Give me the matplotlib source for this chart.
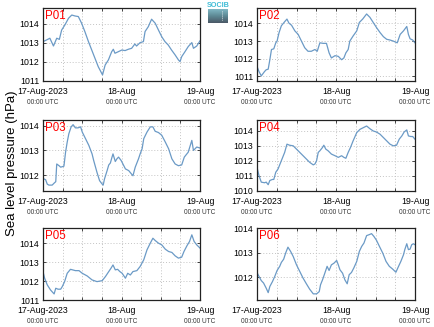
import matplotlib
matplotlib.use('Agg')
import matplotlib.pyplot as plt
import numpy as np

plt.rcParams['font.family'] = ['Liberation Sans', 'DejaVu Sans']

# hours since 17-Aug-2023 00:00 UTC  /  sea level pressure (hPa)
p01_h = [0, 1.1, 2.1, 3.2, 4.2, 5, 5.7, 6.7, 7.8, 8.8, 9.8, 10.8, 11.8, 12.8, 13.9, 14.9, 15.9, 16.9, 18.2, 19,
         20, 21, 21.5, 22, 23, 24.1, 25.1, 26.1, 27.1, 28.1, 28.6, 29.7, 30.7, 31.2, 32.2, 33.2, 34.3, 35.3, 36.3, 37.3,
         38.3, 39.3, 40.4, 41.4, 41.9, 42.4, 43.4, 44.4, 45.5, 46, 47, 48]
p01_v = [1013.07, 1013.16, 1013.25, 1012.84, 1013.25, 1013.19, 1013.68, 1013.95, 1014.30, 1014.47,
         1014.42, 1014.39, 1014.04, 1013.60, 1013.07, 1012.63, 1012.19, 1011.75, 1011.32, 1011.84,
         1012.11, 1012.54, 1012.67, 1012.46, 1012.54, 1012.63, 1012.60, 1012.67, 1012.72, 1012.95,
         1012.84, 1013.02, 1013.07, 1013.60, 1013.86, 1014.25, 1014.04, 1013.68, 1013.33, 1013.07,
         1012.89, 1012.63, 1012.37, 1012.11, 1012.02, 1012.28, 1012.54, 1012.81, 1013.02, 1012.72,
         1012.84, 1013.11]

p02_h = [0, 0.6, 1.3, 2.3, 2.8, 3.4, 3.9, 4.4, 5.1, 5.7, 6.1, 6.7, 7.4, 8.4, 9.1, 9.7, 10.5, 11.5, 12.5, 13.5,
         14.5, 15.5, 16.5, 17.6, 18.3, 19.1, 20.1, 21.1, 21.9, 22.6, 23.7, 24.7, 25.7, 26.4, 27, 27.7, 28.2, 29.2,
         30.3, 31.1, 32.1, 33.3, 34.3, 35.3, 36.3, 37.4, 38.4, 39.4, 40.4, 41.4, 42.6, 43.5, 44.5, 45.5, 46, 46.5,
         47.3, 48]
p02_v = [1011.56, 1011.27, 1011.02, 1011.27, 1011.37, 1011.40, 1011.94, 1012.52, 1012.56, 1012.90,
         1013.00, 1013.48, 1013.87, 1014.10, 1014.25, 1014.02, 1013.90, 1013.58, 1013.38, 1013.00,
         1012.62, 1012.42, 1012.42, 1012.52, 1012.42, 1012.90, 1012.87, 1012.87, 1012.33, 1012.04,
         1012.17, 1012.13, 1011.94, 1012.04, 1012.33, 1012.52, 1013.00, 1013.29, 1013.58, 1014.06,
         1014.25, 1014.54, 1014.35, 1014.06, 1013.77, 1013.48, 1013.25, 1013.10, 1013.06, 1013.00,
         1012.90, 1013.38, 1013.58, 1013.83, 1013.38, 1013.13, 1013.06, 1012.90]

p03_h = [0, 0.8, 1.3, 1.8, 2.8, 3.4, 3.9, 4.2, 4.9, 5.4, 6.4, 6.9, 7.4, 7.9, 8.6, 9.2, 9.9, 10.7, 11.5, 12,
         13, 14, 15, 15.5, 16.5, 17.3, 18.1, 18.4, 18.8, 19.6, 20.1, 20.6, 21.1, 21.4, 22.1, 22.6, 23.1, 23.9,
         24.7, 25.2, 26.2, 27.5, 28.2, 29.2, 29.7, 30.3, 30.8, 31.8, 32.8, 33.6, 34.3, 35.3, 36.3, 37.4, 38.4,
         39.4, 40.4, 41.4, 42.4, 43.2, 44.4, 45.5, 46, 47, 48]
p03_v = [1011.86, 1011.81, 1011.63, 1011.59, 1011.59, 1011.67, 1011.73, 1012.45, 1012.38, 1012.32,
         1012.36, 1012.93, 1013.34, 1013.68, 1013.96, 1014.05, 1013.92, 1013.92, 1013.96, 1013.75,
         1013.48, 1013.21, 1012.86, 1012.59, 1012.11, 1011.77, 1011.63, 1011.59, 1011.84, 1012.18,
         1012.41, 1012.49, 1012.73, 1012.86, 1012.55, 1012.66, 1012.73, 1012.59, 1012.38, 1012.25,
         1012.18, 1011.97, 1012.32, 1012.66, 1012.86, 1013.07, 1013.48, 1013.75, 1013.96, 1013.96,
         1013.78, 1013.73, 1013.62, 1013.34, 1013.07, 1012.66, 1012.45, 1012.38, 1012.41, 1012.73,
         1012.93, 1013.41, 1013.00, 1013.14, 1013.10]

p04_h = [0, 0.6, 1.3, 2.3, 2.8, 3.4, 3.9, 4.7, 5.1, 5.7, 6.4, 7.4, 8.4, 9.1, 9.9, 11, 12, 13, 14, 15,
         16, 17.1, 17.6, 18.1, 18.6, 19.1, 19.9, 20.3, 20.9, 21.6, 22.6, 23.7, 24.7, 25.7, 26.4, 27, 27.7, 28.4,
         29.2, 30.3, 31.3, 32.3, 33.3, 34.3, 35.3, 36.3, 37.4, 38.4, 39.4, 40.4, 41.4, 42.4, 43.2, 44, 44.7,
         45.5, 46, 46.7, 47.3, 48]
p04_v = [1011.58, 1011.03, 1010.59, 1010.55, 1010.59, 1010.42, 1010.70, 1010.77, 1010.77, 1011.25,
         1011.47, 1012.02, 1012.57, 1013.12, 1013.05, 1013.01, 1012.79, 1012.57, 1012.35, 1012.13,
         1011.91, 1011.74, 1011.80, 1012.02, 1012.57, 1012.68, 1012.90, 1013.05, 1012.79, 1012.68,
         1012.46, 1012.35, 1012.24, 1012.35, 1012.24, 1012.18, 1012.57, 1012.90, 1013.34, 1013.89,
         1014.11, 1014.22, 1014.33, 1014.15, 1014.00, 1013.93, 1013.78, 1013.56, 1013.34, 1013.12,
         1013.01, 1013.05, 1013.45, 1013.67, 1013.93, 1014.07, 1013.67, 1013.63, 1013.63, 1013.45]

p05_h = [0, 0.5, 1.3, 2.3, 3.4, 3.9, 4.6, 5.4, 5.9, 6.6, 7.4, 8.4, 9.9, 11, 12, 13.5, 15, 16.5, 18.1, 19.1,
         20.1, 20.8, 21.4, 22.1, 22.8, 23.5, 24.2, 25.2, 25.9, 26.7, 27.5, 28.7, 29.7, 30.8, 31.8, 32.8, 33.6,
         34.3, 35.3, 36.3, 37.4, 38.4, 39.4, 40.4, 41.4, 42.4, 43.1, 44, 44.8, 45.5, 46.2, 47, 48]
p05_v = [1012.50, 1012.15, 1011.80, 1011.53, 1011.32, 1011.62, 1011.57, 1011.57, 1011.71, 1011.97,
         1012.41, 1012.62, 1012.55, 1012.55, 1012.41, 1012.27, 1012.06, 1011.97, 1012.02, 1012.24,
         1012.50, 1012.68, 1012.85, 1012.59, 1012.62, 1012.50, 1012.41, 1012.15, 1012.41, 1012.32,
         1012.50, 1012.55, 1012.77, 1013.12, 1013.65, 1014.00, 1014.26, 1014.14, 1014.00, 1013.91,
         1013.68, 1013.56, 1013.51, 1013.33, 1013.21, 1013.26, 1013.56, 1013.86, 1014.09, 1014.44,
         1014.09, 1013.91, 1013.74]

p06_h = [0, 0.6, 1.3, 2, 2.8, 3.4, 3.9, 4.7, 5.4, 6.1, 6.9, 7.4, 8.1, 8.7, 9.4, 10.2, 11, 12, 13, 14,
         15, 16, 17.1, 18.1, 18.9, 19.3, 19.9, 20.6, 21.3, 21.9, 22.6, 23.4, 24.2, 24.7, 25.2, 26, 26.7, 27.4,
         28, 28.7, 29.4, 30.3, 31.1, 31.8, 32.5, 33.3, 34.1, 34.8, 35.5, 36.3, 37.2, 38.2, 39.2, 40.2, 41.2,
         42.2, 42.9, 43.7, 44.5, 44.9, 45.5, 46, 46.5, 47, 47.5, 48]
p06_v = [1012.19, 1012.03, 1011.86, 1011.76, 1011.55, 1011.37, 1011.62, 1011.82, 1012.03, 1012.27,
         1012.44, 1012.60, 1012.73, 1012.98, 1013.22, 1013.05, 1012.84, 1012.50, 1012.23, 1011.96,
         1011.73, 1011.51, 1011.32, 1011.32, 1011.41, 1011.69, 1011.89, 1012.16, 1012.44, 1012.27,
         1012.50, 1012.57, 1012.68, 1012.50, 1012.30, 1012.16, 1011.89, 1011.73, 1012.10, 1012.19,
         1012.37, 1012.64, 1013.05, 1013.25, 1013.39, 1013.69, 1013.73, 1013.77, 1013.66, 1013.50,
         1013.25, 1012.98, 1012.64, 1012.44, 1012.33, 1012.20, 1012.41, 1012.64, 1012.91, 1013.12,
         1013.36, 1013.12, 1013.14, 1013.32, 1013.36, 1013.32]

names = ['P01', 'P02', 'P03', 'P04', 'P05', 'P06']
ylims = [(1011.0, 1014.84), (1010.73, 1014.88), (1011.35, 1014.24),
         (1010.0, 1014.73), (1011.0, 1014.8), (1011.07, 1014.0)]
tick_hours = [0, 24, 48]
tick_labels = ['17-Aug-2023', '18-Aug', '19-Aug']

W, H = 434, 327
fig = plt.figure(figsize=(W / 100, H / 100), dpi=100)

cols = [(43, 200), (257, 415)]
rows = [(8, 81), (120, 191), (228, 300)]
series = [(p01_h, p01_v), (p02_h, p02_v), (p03_h, p03_v), (p04_h, p04_v), (p05_h, p05_v), (p06_h, p06_v)]

for i, (hh, vv) in enumerate(series):
    x0, x1 = cols[i % 2]
    y0, y1 = rows[i // 2]
    ax = fig.add_axes([x0 / W, 1 - y1 / H, (x1 - x0) / W, (y1 - y0) / H])
    ax.plot(hh, vv, color='#6b9ac6', lw=0.9)
    ax.set_xlim(0, 48)
    ax.set_ylim(*ylims[i])
    lo, hi = ylims[i]
    ax.set_yticks(np.arange(np.ceil(lo), np.floor(hi) + 1))
    ax.yaxis.set_major_formatter(matplotlib.ticker.FormatStrFormatter('%d'))
    ax.set_xticks(tick_hours)
    ax.set_xticklabels(tick_labels)
    ax.set_xticks(np.arange(6, 48, 6), minor=True)
    ax.grid(True, which='both', color='#c4c4c4', linestyle=(0, (1, 2)), linewidth=0.7)
    ax.tick_params(which='both', direction='in', length=2, width=0.5, top=True, right=True,
                   labelsize=6.3, pad=2.5)
    ax.tick_params(axis='x', pad=4)
    for s in ax.spines.values():
        s.set_linewidth(0.9)
        s.set_color('#222222')
    for t in tick_hours:
        ax.annotate('00:00 UTC', xy=(t, 0), xycoords=('data', 'axes fraction'),
                    xytext=(0, -13), textcoords='offset points', ha='center', va='top',
                    fontsize=4.7, color='#333333')
    ax.text(0.015, 0.97, names[i], transform=ax.transAxes, ha='left', va='top',
            fontsize=8.3, color='red')

fig.text(12 / W, 1 - 163 / H, 'Sea level pressure (hPa)', rotation=90, ha='center', va='center',
         fontsize=9.5)

# SOCIB logo
fig.text(218 / W, 1 - 5.5 / H, 'SOCIB', ha='center', va='center', fontsize=5.2,
         color='#3fbcd6', fontweight='bold')
lax = fig.add_axes([208 / W, 1 - 23 / H, 20 / W, 14 / H])
grad = np.linspace(0, 1, 50).reshape(-1, 1)
lax.imshow(grad, aspect='auto', cmap=matplotlib.colors.LinearSegmentedColormap.from_list(
    'socib', ['#4a5866', '#5d8894', '#7fb7c4']), extent=[0, 1, 0, 1], origin='upper')
lax.plot([0.72, 0.72], [0.15, 0.75], color='white', lw=0.6, linestyle=(0, (1, 1.5)))
lax.set_xlim(0, 1)
lax.set_ylim(1, 0)
lax.axis('off')

fig.savefig('out.png', dpi=100)
